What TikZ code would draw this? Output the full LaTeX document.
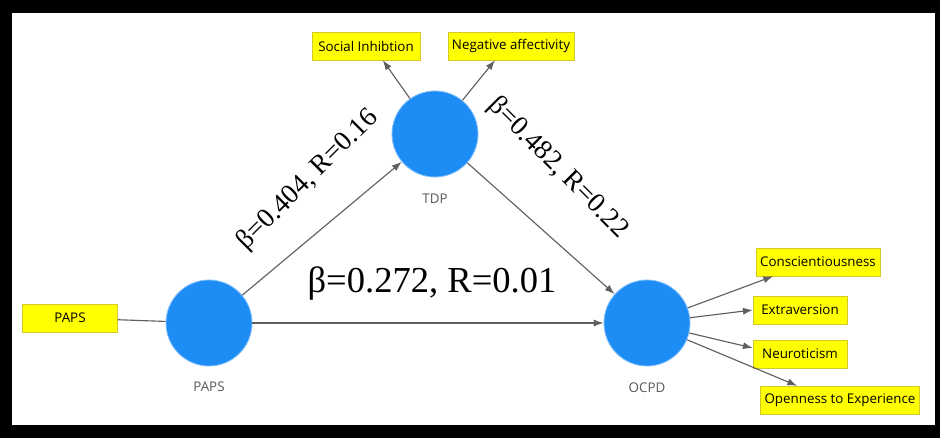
\documentclass[tikz,border=0pt]{standalone}
\usepackage{fontspec}
\setmainfont{Liberation Serif}
\newfontfamily\boxfont{Open Sans}
\usetikzlibrary{arrows.meta,positioning}
\definecolor{latentblue}{RGB}{30,140,245}
\definecolor{itemyellow}{RGB}{255,255,0}
\definecolor{linegray}{RGB}{95,95,95}

\begin{document}
\begin{tikzpicture}[x=0.025cm, y=-0.025cm,
    latent/.style={circle, fill=latentblue, draw=latentblue!55!white, line width=0.6pt, minimum size=2.15cm, inner sep=0pt},
    item/.style={rectangle, fill=itemyellow, draw=yellow!80!black, line width=0.3pt, minimum height=0.7cm, inner xsep=3pt, font=\boxfont\fontsize{9.5}{11}\selectfont},
    latentlabel/.style={font=\boxfont\fontsize{9.5}{11}\selectfont, text=black!65},
    coef/.style={font=\fontsize{19.5}{22}\selectfont},
    effect/.style={draw=linegray, line width=0.8pt, -{Latex[length=7pt,width=5pt]}},
    plainline/.style={draw=linegray, line width=0.8pt}
]

    % frame
    \fill[black] (0,0) rectangle (940,438);
    \fill[white] (12,13) rectangle (935,425);

    \node[latent] (papsc) at (209,323) {};
    \node[latent] (tdp) at (435,134) {};
    \node[latent] (ocpd) at (647,323) {};

    \node[latentlabel, below=0.25cm of papsc] (papsl) {PAPS};
    \node[latentlabel, below=0.28cm of tdp] (tdpl) {TDP};
    \node[latentlabel, below=0.28cm of ocpd] (ocpdl) {OCPD};

    \node[item, minimum width=2.37cm] (papsi) at (70,318) {PAPS};
    \node[item, minimum width=2.7cm] (si) at (366,46) {Social Inhibtion};
    \node[item] (na) at (511,46) {Negative affectivity};
    \node[item] (cs) at (818,262) {Conscientiousness};
    \node[item, minimum width=2.35cm] (ex) at (800,310) {Extraversion};
    \node[item, minimum width=2.35cm] (neu) at (800,354) {Neuroticism};
    \node[item] (ope) at (840,400) {Openness to Experience};

    \node[coef, font=\fontsize{26}{30}\selectfont] (b3) at (432,284) {β=0.272, R=0.01};
    \node[coef, rotate=45] (b1) at (308,180) {β=0.404, R=0.16};
    \node[coef, rotate=-45] (b2) at (558,168) {β=0.482, R=0.22};

    \draw[plainline] (papsi) -- (papsc);
    \draw[effect] (papsc) -- (tdp);
    \draw[effect] (tdp) -- (ocpd);
    \draw[effect] (papsc) -- (ocpd);
    \draw[effect] (tdp) -- ([xshift=0.42cm]si.south);
    \draw[effect] (tdp) -- ([xshift=-0.4cm]na.south);
    \draw[effect] (ocpd) -- ([xshift=-1.12cm]cs.south);
    \draw[effect] (ocpd) -- (ex.west);
    \draw[effect] (ocpd) -- ([yshift=0.15cm]neu.west);
    \draw[effect] (ocpd) -- ([xshift=-1.07cm]ope.north);

\end{tikzpicture}
\end{document}
